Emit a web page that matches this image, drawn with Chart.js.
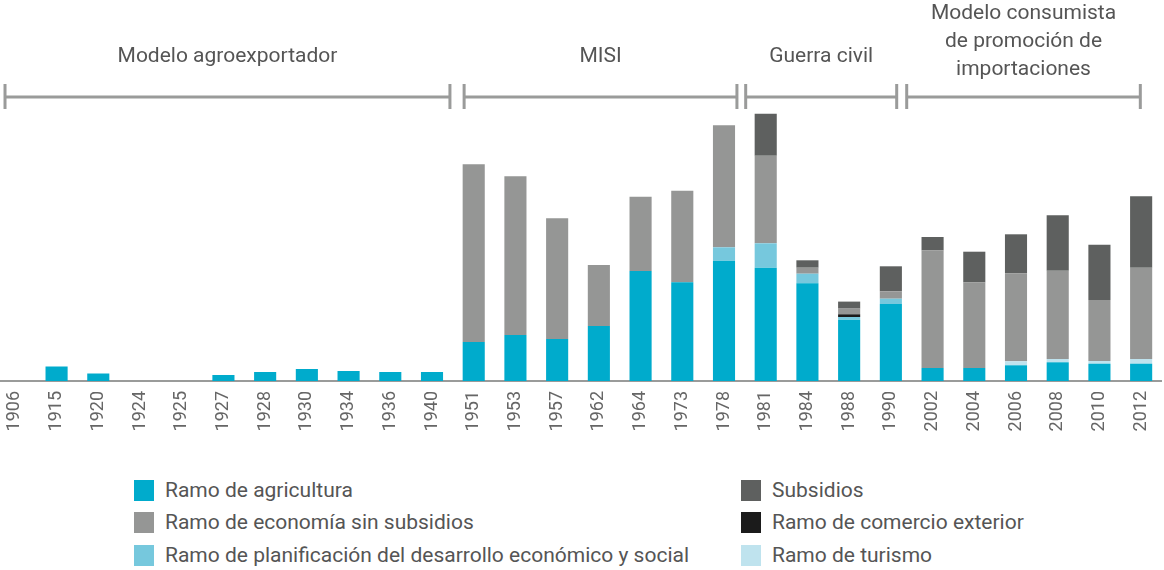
<!DOCTYPE html>
<html>
<head>
<meta charset="utf-8">
<script src="https://cdn.jsdelivr.net/npm/chart.js@4"></script>
<style>
  html, body { margin: 0; padding: 0; background: #fff; overflow: hidden; }
  body { width: 1164px; height: 570px; position: relative; font-family: Roboto, "Noto Sans", sans-serif; }
  #wrap { position: absolute; left: -6px; top: 0; width: 1168px; height: 441px; }
  .leg { position: absolute; display: flex; align-items: center; font-size: 21px; color: #555; white-space: nowrap; }
  .leg span.box { display: inline-block; width: 20px; height: 21px; margin-right: 11px; }
</style>
</head>
<body>
<div id="wrap"><canvas id="myChart"></canvas></div>
<div id="legend"></div>
<script>
"use strict";

// años (eje x)
const years = ["1906", "1915", "1920", "1924", "1925", "1927", "1928", "1930", "1934", "1936", "1940",
  "1951", "1953", "1957", "1962", "1964", "1973", "1978",
  "1981", "1984", "1988", "1990",
  "2002", "2004", "2006", "2008", "2010", "2012"];

// series (unidades relativas)
const agricultura = [0, 14.5, 7.5, 0, 0, 6, 9, 12, 10, 9, 9,
  39, 46, 42, 55, 110, 98.7, 120.3,
  113.3, 97.7, 61.3, 77,
  13, 13, 15.7, 18.7, 17.3, 17.3];
const planificacion = [0, 0, 0, 0, 0, 0, 0, 0, 0, 0, 0,
  0, 0, 0, 0, 0, 0, 13.4,
  24.4, 9.6, 2.7, 5.3,
  0, 0, 0, 0, 0, 0];
const turismo = [0, 0, 0, 0, 0, 0, 0, 0, 0, 0, 0,
  0, 0, 0, 0, 0, 0, 0,
  0, 0, 0, 0,
  0, 0, 4, 3.3, 2.7, 4.7];
const comercio = [0, 0, 0, 0, 0, 0, 0, 0, 0, 0, 0,
  0, 0, 0, 0, 0, 0, 0,
  0, 0, 2.7, 0,
  0, 0, 0, 0, 0, 0];
const economia = [0, 0, 0, 0, 0, 0, 0, 0, 0, 0, 0,
  177.7, 158.7, 120.7, 61, 74.3, 91.6, 122,
  87.6, 6, 5.7, 7.4,
  117.7, 85.7, 88, 88.3, 61, 91.3];
const subsidios = [0, 0, 0, 0, 0, 0, 0, 0, 0, 0, 0,
  0, 0, 0, 0, 0, 0, 0,
  42, 7.4, 7, 25,
  13.3, 30.6, 39, 55.4, 55.3, 71.4];

// periodos (en unidades de categoría)
const periodos = [
  { label: ["Modelo agroexportador"], from: -0.236, to: 10.43 },
  { label: ["MISI"], from: 10.77, to: 17.31 },
  { label: ["Guerra civil"], from: 17.52, to: 21.14 },
  { label: ["Modelo consumista", "de promoción de", "importaciones"], from: 21.38, to: 26.98 }
];

const colores = {
  agricultura: "#00abcc",
  economia: "#959695",
  planificacion: "#76c8dd",
  subsidios: "#5e605f",
  comercio: "#1b1b1b",
  turismo: "#bfe3ee"
};

// brackets de los periodos arriba del gráfico
const periodPlugin = {
  id: "periodos",
  afterDraw(chart) {
    const ctx = chart.ctx;
    const xs = chart.scales.x;
    ctx.save();
    ctx.strokeStyle = "#9a9b9a";
    ctx.lineWidth = 3;
    ctx.fillStyle = "#555";
    ctx.font = "21px Roboto";
    ctx.textAlign = "center";
    ctx.textBaseline = "middle";
    periodos.forEach(p => {
      const x1 = xs.getPixelForValue(p.from);
      const x2 = xs.getPixelForValue(p.to);
      ctx.beginPath();
      ctx.moveTo(x1, 97);
      ctx.lineTo(x2, 97);
      ctx.moveTo(x1, 84);
      ctx.lineTo(x1, 109);
      ctx.moveTo(x2, 84);
      ctx.lineTo(x2, 109);
      ctx.stroke();
      const n = p.label.length;
      p.label.forEach((t, i) => {
        const y = n === 1 ? 57 : 70 - (n - 1 - i) * 28;
        ctx.fillText(t, (x1 + x2) / 2, y);
      });
    });
    ctx.restore();
  }
};

const ctx = document.getElementById("myChart").getContext("2d");
const myChart = new Chart(ctx, {
  type: "bar",
  data: {
    labels: years,
    datasets: [
      { label: "Ramo de agricultura", data: agricultura, backgroundColor: colores.agricultura },
      { label: "Ramo de planificación del desarrollo económico y social", data: planificacion, backgroundColor: colores.planificacion },
      { label: "Ramo de turismo", data: turismo, backgroundColor: colores.turismo },
      { label: "Ramo de comercio exterior", data: comercio, backgroundColor: colores.comercio },
      { label: "Ramo de economía sin subsidios", data: economia, backgroundColor: colores.economia },
      { label: "Subsidios", data: subsidios, backgroundColor: colores.subsidios }
    ]
  },
  options: {
    responsive: true,
    maintainAspectRatio: false,
    animation: false,
    layout: { padding: { top: 110, left: 0, right: 0, bottom: 0 } },
    datasets: { bar: { categoryPercentage: 1, barPercentage: 0.53, borderWidth: 0 } },
    plugins: { legend: { display: false }, tooltip: { enabled: false } },
    scales: {
      x: {
        stacked: true,
        grid: { display: false, drawTicks: false },
        border: { display: true, color: "#9a9b9a", width: 2 },
        ticks: { color: "#666", font: { family: "Roboto", size: 18 }, minRotation: 90, maxRotation: 90, padding: 10, autoSkip: false },
        afterFit(scale) {
          scale.height = 60;
          scale.paddingLeft = 0;
          scale.paddingRight = 0;
        }
      },
      y: { stacked: true, display: false, min: 0, max: 271 }
    }
  },
  plugins: [periodPlugin]
});

// leyenda en dos columnas
const legendOrder = [
  ["Ramo de agricultura", 134, 490],
  ["Ramo de economía sin subsidios", 134, 522],
  ["Ramo de planificación del desarrollo económico y social", 134, 555],
  ["Subsidios", 741, 490],
  ["Ramo de comercio exterior", 741, 522],
  ["Ramo de turismo", 741, 555]
];
const legendEl = document.getElementById("legend");
legendOrder.forEach(([name, x, y]) => {
  const ds = myChart.data.datasets.find(d => d.label === name);
  const div = document.createElement("div");
  div.className = "leg";
  div.style.left = x + "px";
  div.style.top = (y - 12) + "px";
  div.style.height = "24px";
  div.innerHTML = '<span class="box" style="background:' + ds.backgroundColor + '"></span>' + name;
  legendEl.appendChild(div);
});
</script>
</body>
</html>
